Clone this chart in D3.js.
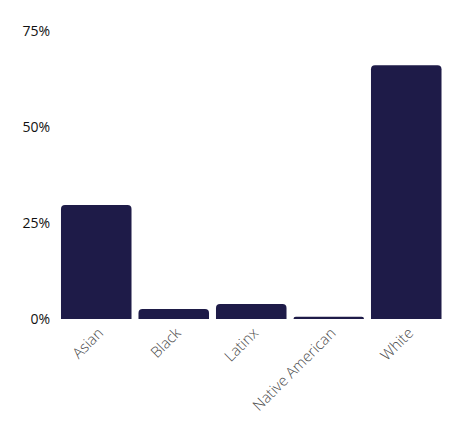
<!DOCTYPE html>
<html>
<head>
<meta charset="utf-8">
<script src="https://cdn.jsdelivr.net/npm/d3@7"></script>
<style>
  body { margin: 0; background: #fff; font-family: 'Open Sans', sans-serif; }
  svg { display: block; }
</style>
</head>
<body>
<div id="chart"></div>
<script>
const categories = ['Asian', 'Black', 'Latinx', 'Native American', 'White'];
const shares = [0.297, 0.026, 0.039, 0.006, 0.661];
const yTicks = [0, 0.25, 0.5, 0.75];

const width = 469, height = 428;
const margin = { top: 31, right: 24, bottom: 109, left: 57.5 };

const svg = d3.select('#chart').append('svg')
  .attr('width', width)
  .attr('height', height);

const x = d3.scaleBand()
  .domain(categories)
  .range([margin.left, width - margin.right])
  .paddingInner(0.09)
  .paddingOuter(0.045);

const y = d3.scaleLinear()
  .domain([0, 0.75])
  .range([height - margin.bottom, margin.top]);

// y axis labels only, no line
const yAxis = svg.append('g')
  .attr('transform', 'translate(50,0)')
  .call(d3.axisLeft(y).tickValues(yTicks).tickFormat(d3.format('.0%')).tickSize(0).tickPadding(0));
yAxis.select('.domain').remove();
yAxis.selectAll('text')
  .style('font-family', "'Open Sans', sans-serif")
  .style('font-size', '14px')
  .style('fill', '#111');

// bars with rounded top corners
const r = 4;
function barPath(d, i) {
  const x0 = x(categories[i]), w = x.bandwidth();
  const y0 = y(0), y1 = y(d);
  const rr = Math.min(r, (y0 - y1), w / 2);
  return 'M' + x0 + ',' + y0 +
    'V' + (y1 + rr) +
    'Q' + x0 + ',' + y1 + ' ' + (x0 + rr) + ',' + y1 +
    'H' + (x0 + w - rr) +
    'Q' + (x0 + w) + ',' + y1 + ' ' + (x0 + w) + ',' + (y1 + rr) +
    'V' + y0 + 'Z';
}

svg.append('g').selectAll('path')
  .data(shares)
  .join('path')
  .attr('d', barPath)
  .attr('fill', '#1e1b48');

// x labels rotated
const xAxis = svg.append('g')
  .attr('transform', 'translate(0,' + (y(0)) + ')')
  .call(d3.axisBottom(x).tickSize(0).tickPadding(0));
xAxis.select('.domain').remove();
xAxis.selectAll('text')
  .style('font-family', "'Open Sans', sans-serif")
  .style('font-size', '15px')
  .style('font-weight', '300')
  .style('fill', '#4a4a4a')
  .attr('text-anchor', 'end')
  .attr('dy', null)
  .attr('y', 0)
  .attr('transform', 'translate(8,15) rotate(-45)');
</script>
</body>
</html>
